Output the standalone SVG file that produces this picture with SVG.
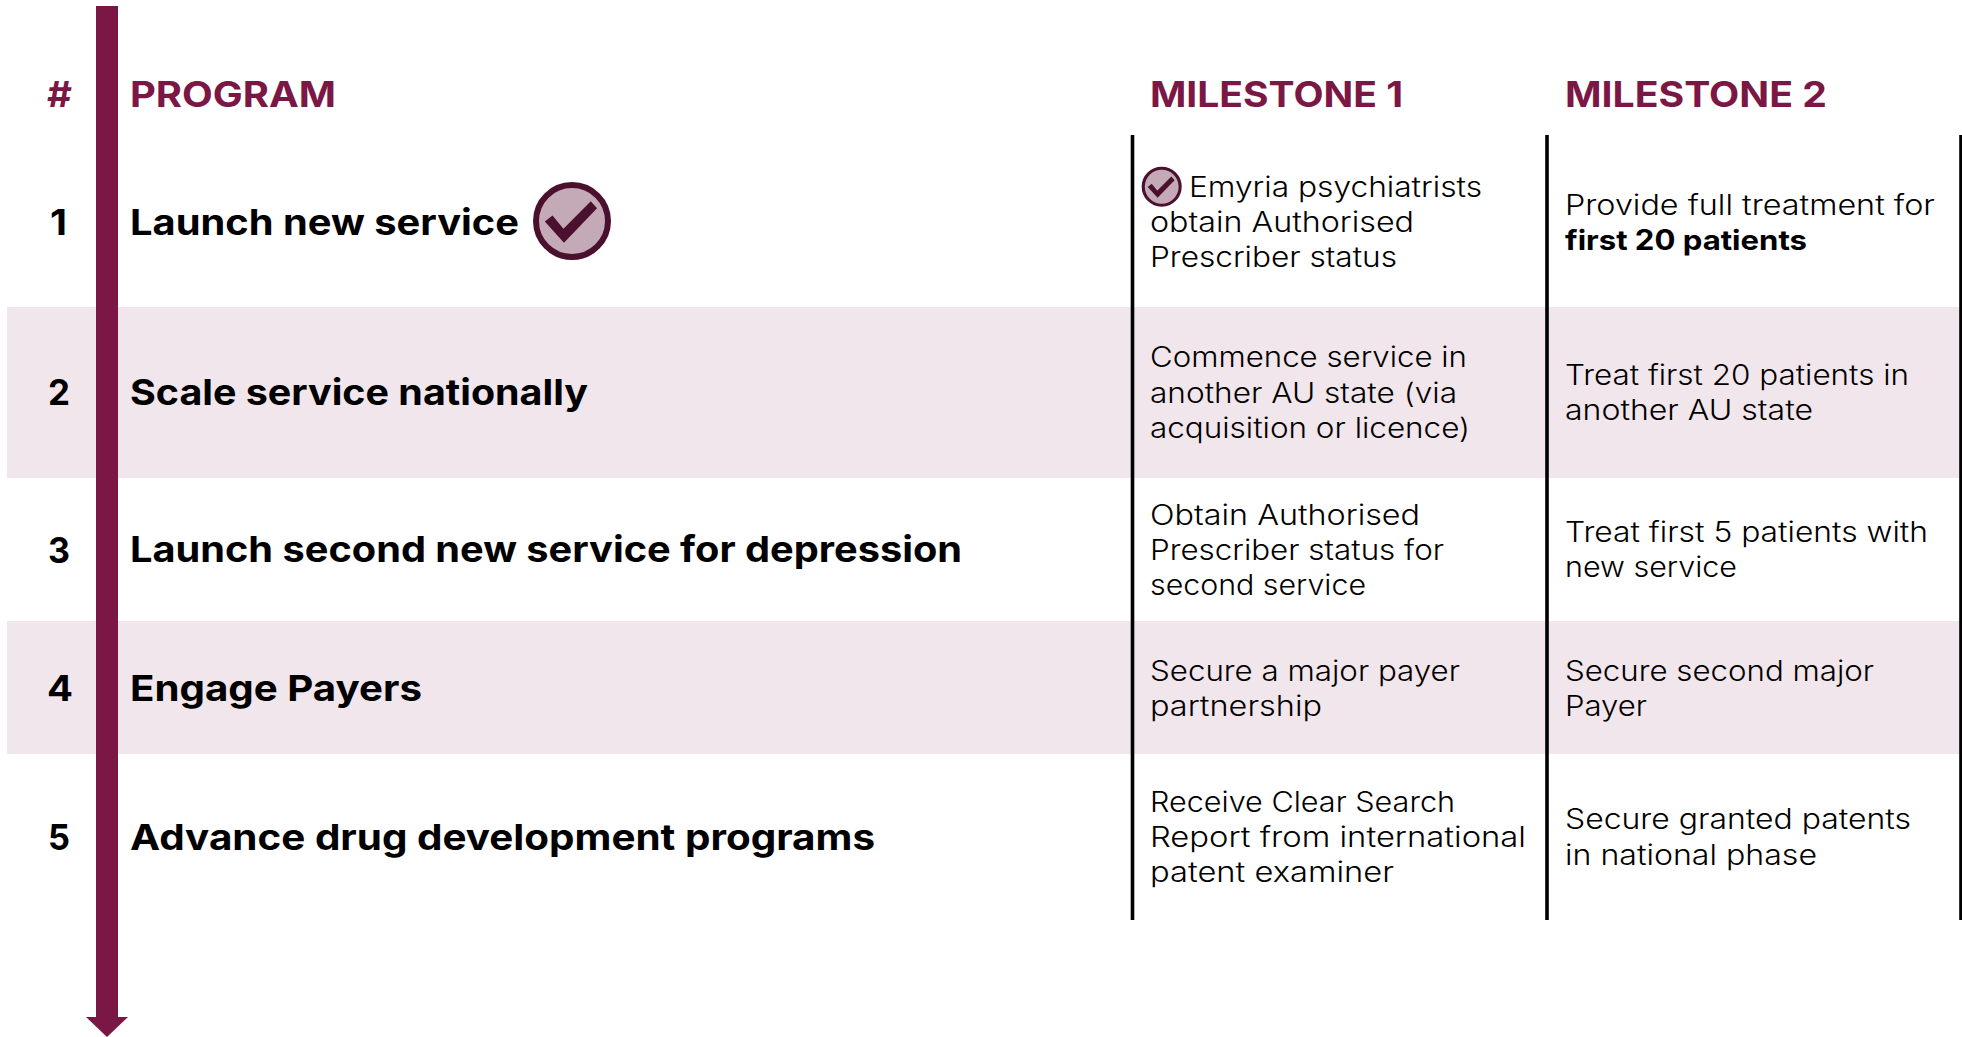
<svg xmlns="http://www.w3.org/2000/svg" xmlns:xlink="http://www.w3.org/1999/xlink" width="1962" height="1037" viewBox="0 0 1962 1037">
<style>
text{font-family:"Inter","Noto Sans","Liberation Sans",sans-serif;fill:#000}
.h{font-size:35px;font-weight:700;fill:#7b1745}
.n{font-size:35.5px;font-weight:700}
.t{font-size:35.5px;font-weight:700}
.b{font-size:27.8px;font-weight:300}
.bb{font-size:27.8px;font-weight:700}
.band{fill:#f1e6ec}
.sep{stroke:#000;stroke-width:3.6;fill:none}
.tick-c{fill:#c4a9b6;stroke:#4a102e;stroke-width:6}
.tick-m{fill:#4a102e;stroke:#4a102e;stroke-width:3}
</style>
<defs>
<g id="tick">
<circle class="tick-c" cx="0" cy="0" r="36"/>
<polygon class="tick-m" points="-25,0.7 -19.7,-3.5 -8.7,10 18.7,-17.5 23,-12.7 -8,19.5"/>
</g>
<marker id="ah" markerUnits="userSpaceOnUse" markerWidth="20" markerHeight="42" refX="0" refY="21" orient="auto" viewBox="0 0 20 42">
<polygon points="0,0 20,21 0,42" fill="#7b1745"/>
</marker>
</defs>
<rect width="1962" height="1037" fill="#fff"/>
<g id="bands">
<rect class="band" x="7" y="307" width="1955" height="171"/>
<rect class="band" x="7" y="621" width="1955" height="133"/>
</g>
<g id="connectors">
<line x1="107" y1="6" x2="107" y2="1017" stroke="#7b1745" stroke-width="22" marker-end="url(#ah)"/>
<line class="sep" x1="1132.5" y1="135" x2="1132.5" y2="920"/>
<line class="sep" x1="1547" y1="135" x2="1547" y2="920"/>
<line class="sep" x1="1961" y1="135" x2="1961" y2="920"/>
</g>
<g id="header">
<text class="h" x="47" y="107" textLength="25" lengthAdjust="spacingAndGlyphs">#</text>
<text class="h" x="130" y="107" textLength="206" lengthAdjust="spacingAndGlyphs">PROGRAM</text>
<text class="h" x="1150" y="107" textLength="253" lengthAdjust="spacingAndGlyphs">MILESTONE 1</text>
<text class="h" x="1565" y="107" textLength="262" lengthAdjust="spacingAndGlyphs">MILESTONE 2</text>
</g>
<g id="row1">
<text class="n" x="50" y="234.5" textLength="17" lengthAdjust="spacingAndGlyphs">1</text>
<text class="t" x="130" y="234.5" textLength="389" lengthAdjust="spacingAndGlyphs">Launch new service</text>
<use xlink:href="#tick" href="#tick" transform="translate(572 221)"/>
<use xlink:href="#tick" href="#tick" transform="translate(1161.7 186.7) scale(0.513)"/>
<text class="b" x="1189" y="196.5" textLength="293" lengthAdjust="spacingAndGlyphs">Emyria psychiatrists</text>
<text class="b" x="1150" y="231.5" textLength="264" lengthAdjust="spacingAndGlyphs">obtain Authorised</text>
<text class="b" x="1150" y="266.5" textLength="247" lengthAdjust="spacingAndGlyphs">Prescriber status</text>
<text class="b" x="1565" y="214.5" textLength="370" lengthAdjust="spacingAndGlyphs">Provide full treatment for</text>
<text class="bb" x="1565" y="249.5" textLength="242" lengthAdjust="spacingAndGlyphs">first 20 patients</text>
</g>
<g id="row2">
<text class="n" x="48" y="404.5" textLength="22" lengthAdjust="spacingAndGlyphs">2</text>
<text class="t" x="130" y="404.5" textLength="458" lengthAdjust="spacingAndGlyphs">Scale service nationally</text>
<text class="b" x="1150" y="366.5" textLength="317" lengthAdjust="spacingAndGlyphs">Commence service in</text>
<text class="b" x="1150" y="402.5" textLength="307" lengthAdjust="spacingAndGlyphs">another AU state (via</text>
<text class="b" x="1150" y="437.5" textLength="320" lengthAdjust="spacingAndGlyphs">acquisition or licence)</text>
<text class="b" x="1565" y="384.5" textLength="344" lengthAdjust="spacingAndGlyphs">Treat first 20 patients in</text>
<text class="b" x="1565" y="419.5" textLength="248" lengthAdjust="spacingAndGlyphs">another AU state</text>
</g>
<g id="row3">
<text class="n" x="48" y="562.5" textLength="22" lengthAdjust="spacingAndGlyphs">3</text>
<text class="t" x="130" y="562" textLength="832" lengthAdjust="spacingAndGlyphs">Launch second new service for depression</text>
<text class="b" x="1150" y="524.5" textLength="270" lengthAdjust="spacingAndGlyphs">Obtain Authorised</text>
<text class="b" x="1150" y="559.5" textLength="294" lengthAdjust="spacingAndGlyphs">Prescriber status for</text>
<text class="b" x="1150" y="594.5" textLength="216" lengthAdjust="spacingAndGlyphs">second service</text>
<text class="b" x="1565" y="541.5" textLength="363" lengthAdjust="spacingAndGlyphs">Treat first 5 patients with</text>
<text class="b" x="1565" y="576.5" textLength="172" lengthAdjust="spacingAndGlyphs">new service</text>
</g>
<g id="row4">
<text class="n" x="47" y="700.5" textLength="26" lengthAdjust="spacingAndGlyphs">4</text>
<text class="t" x="130" y="700.5" textLength="292" lengthAdjust="spacingAndGlyphs">Engage Payers</text>
<text class="b" x="1150" y="681" textLength="310" lengthAdjust="spacingAndGlyphs">Secure a major payer</text>
<text class="b" x="1150" y="716" textLength="172" lengthAdjust="spacingAndGlyphs">partnership</text>
<text class="b" x="1565" y="681" textLength="309" lengthAdjust="spacingAndGlyphs">Secure second major</text>
<text class="b" x="1565" y="716" textLength="82" lengthAdjust="spacingAndGlyphs">Payer</text>
</g>
<g id="row5">
<text class="n" x="48" y="850" textLength="22" lengthAdjust="spacingAndGlyphs">5</text>
<text class="t" x="130" y="850" textLength="745" lengthAdjust="spacingAndGlyphs">Advance drug development programs</text>
<text class="b" x="1150" y="811.5" textLength="305" lengthAdjust="spacingAndGlyphs">Receive Clear Search</text>
<text class="b" x="1150" y="846.5" textLength="376" lengthAdjust="spacingAndGlyphs">Report from international</text>
<text class="b" x="1150" y="881.5" textLength="244" lengthAdjust="spacingAndGlyphs">patent examiner</text>
<text class="b" x="1565" y="829" textLength="346" lengthAdjust="spacingAndGlyphs">Secure granted patents</text>
<text class="b" x="1565" y="864.5" textLength="252" lengthAdjust="spacingAndGlyphs">in national phase</text>
</g>
</svg>
